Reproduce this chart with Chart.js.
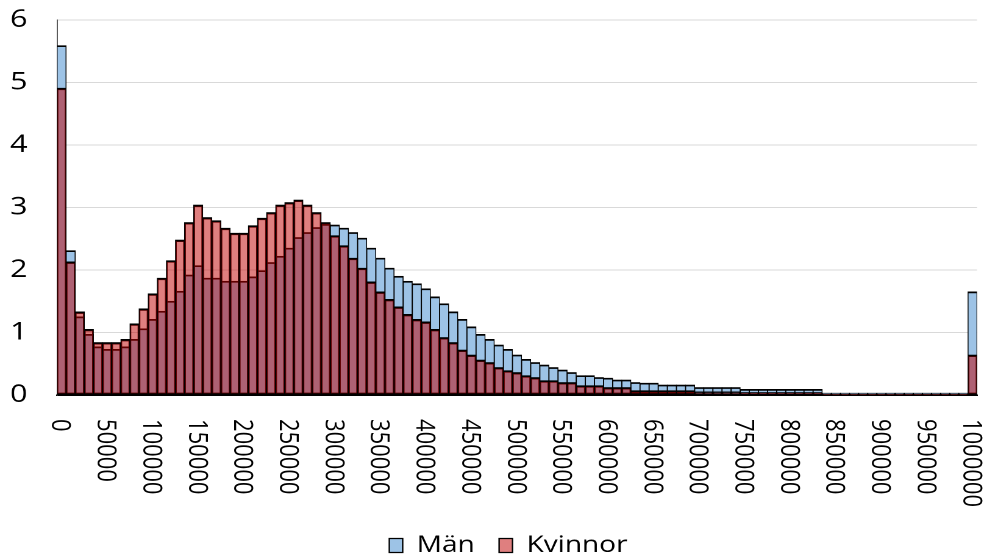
<!DOCTYPE html>
<html><head><meta charset="utf-8">
<script src="https://cdn.jsdelivr.net/npm/chart.js@4/dist/chart.umd.min.js"></script>
<style>
html,body{margin:0;padding:0;background:#fff;overflow:hidden;}
#wrap{position:absolute;left:0;top:0;width:807px;height:558px;transform:scaleX(1.21933);transform-origin:0 0;}
</style></head><body>
<div id="wrap"><canvas id="c" width="807" height="558"></canvas></div>
<script>
const categories = [0,10000,20000,30000,40000,50000,60000,70000,80000,90000,
 100000,110000,120000,130000,140000,150000,160000,170000,180000,190000,
 200000,210000,220000,230000,240000,250000,260000,270000,280000,290000,
 300000,310000,320000,330000,340000,350000,360000,370000,380000,390000,
 400000,410000,420000,430000,440000,450000,460000,470000,480000,490000,
 500000,510000,520000,530000,540000,550000,560000,570000,580000,590000,
 600000,610000,620000,630000,640000,650000,660000,670000,680000,690000,
 700000,710000,720000,730000,740000,750000,760000,770000,780000,790000,
 800000,810000,820000,830000,840000,850000,860000,870000,880000,890000,
 900000,910000,920000,930000,940000,950000,960000,970000,980000,990000,
 1000000];
const men = [5.59, 2.31, 1.25, 0.97, 0.77, 0.73, 0.73, 0.77, 0.89, 1.06,
 1.21, 1.34, 1.50, 1.66, 1.92, 2.07, 1.87, 1.87, 1.82, 1.82,
 1.82, 1.89, 1.99, 2.12, 2.22, 2.35, 2.52, 2.60, 2.68, 2.73,
 2.72, 2.67, 2.60, 2.51, 2.35, 2.19, 2.03, 1.90, 1.82, 1.78,
 1.70, 1.57, 1.46, 1.33, 1.21, 1.09, 0.97, 0.89, 0.80, 0.73,
 0.64, 0.57, 0.52, 0.48, 0.44, 0.40, 0.36, 0.31, 0.31, 0.28,
 0.27, 0.24, 0.24, 0.20, 0.19, 0.19, 0.16, 0.16, 0.16, 0.16,
 0.12, 0.12, 0.12, 0.12, 0.12, 0.09, 0.09, 0.09, 0.09, 0.09,
 0.09, 0.09, 0.09, 0.09, 0.03, 0.03, 0.03, 0.03, 0.03, 0.03,
 0.03, 0.03, 0.03, 0.03, 0.03, 0.03, 0.03, 0.03, 0.03, 0.03,
 1.65];
const women = [4.91, 2.13, 1.33, 1.05, 0.84, 0.84, 0.84, 0.89, 1.14, 1.38,
 1.62, 1.87, 2.15, 2.48, 2.76, 3.04, 2.84, 2.79, 2.67, 2.59,
 2.59, 2.71, 2.83, 2.92, 3.04, 3.08, 3.12, 3.04, 2.92, 2.76,
 2.55, 2.39, 2.19, 2.03, 1.81, 1.65, 1.53, 1.41, 1.29, 1.21,
 1.17, 1.05, 0.92, 0.84, 0.72, 0.64, 0.56, 0.52, 0.44, 0.39,
 0.36, 0.31, 0.28, 0.23, 0.23, 0.20, 0.20, 0.15, 0.15, 0.15,
 0.12, 0.12, 0.12, 0.07, 0.07, 0.07, 0.07, 0.07, 0.07, 0.07,
 0.05, 0.05, 0.05, 0.05, 0.05, 0.04, 0.04, 0.04, 0.04, 0.04,
 0.04, 0.04, 0.04, 0.04, 0.01, 0.01, 0.01, 0.01, 0.01, 0.01,
 0.01, 0.01, 0.01, 0.01, 0.01, 0.01, 0.01, 0.01, 0.01, 0.01,
 0.64];
const seriesNames = ['Män', 'Kvinnor'];
const labelEvery = 5;

Chart.defaults.font.family = "'Open Sans', sans-serif";

const xLabelPlugin = {
  id: 'xLabels',
  afterDraw(chart) {
    const xs = chart.scales.x, ctx = chart.ctx;
    ctx.save();
    ctx.font = "22px 'Open Sans', sans-serif";
    ctx.fillStyle = '#000';
    ctx.textAlign = 'left';
    ctx.textBaseline = 'middle';
    xs.ticks.forEach((t, i) => {
      if (i % labelEvery) return;
      const x = xs.getPixelForTick(i);
      ctx.save();
      ctx.translate(x - 1.5, chart.chartArea.bottom + 24);
      ctx.rotate(Math.PI / 2);
      ctx.fillText(String(categories[i]), 0, 0);
      ctx.restore();
    });
    ctx.restore();
  }
};

const legendShift = {
  id: 'legendShift',
  afterLayout(chart) {
    const lg = chart.legend;
    if (lg) { lg.left += 12.2; lg.right += 12.2; }
  }
};

new Chart(document.getElementById('c'), {
  type: 'bar',
  data: {
    labels: categories,
    datasets: [
      {label: seriesNames[0], data: men, backgroundColor: '#9DC3E6', borderColor: '#000', order: 1},
      {label: seriesNames[1], data: women, backgroundColor: 'rgba(192,0,0,0.5)', borderColor: '#000', order: 0}
    ]
  },
  options: {
    responsive: false,
    devicePixelRatio: 2,
    animation: false,
    layout: {padding: {left: 8.2, right: 5.7, top: 20, bottom: -9}},
    datasets: {bar: {grouped: false, barPercentage: 1, categoryPercentage: 1,
      borderWidth: {top: 1.7, bottom: 1.5, left: 0.8, right: 0.8}, borderSkipped: false}},
    scales: {
      x: {grid: {display: false, drawTicks: false}, border: {display: true, color: '#000', width: 1.5},
          ticks: {display: false, autoSkip: false}, afterFit(s) { s.height = 119; }},
      y: {min: 0, max: 6, ticks: {stepSize: 1, color: '#000', font: {size: 25}, padding: 0, crossAlign: 'far'},
          grid: {color: '#d9d9d9', lineWidth: 1, drawTicks: false},
          border: {display: true, color: '#595959', width: 1},
          afterFit(s) { s.width = 38.55; }}
    },
    plugins: {
      legend: {position: 'bottom', labels: {boxWidth: 11, boxHeight: 14, padding: 20, color: '#000',
        font: {size: 23}, sort: (a, b) => a.datasetIndex - b.datasetIndex}},
      tooltip: {enabled: false}
    }
  },
  plugins: [xLabelPlugin, legendShift]
});
</script>
</body></html>
